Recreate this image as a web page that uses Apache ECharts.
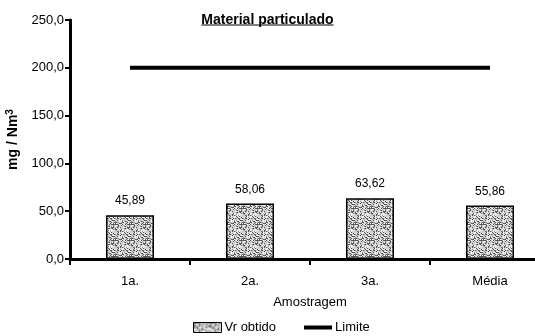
<!DOCTYPE html>
<html>
<head>
<meta charset="utf-8">
<script src="https://cdn.jsdelivr.net/npm/echarts@6/dist/echarts.min.js"></script>
<style>
  html, body { margin: 0; padding: 0; background: #fff; }
  #chart { width: 535px; height: 336px; }
</style>
</head>
<body>
<div id="chart"></div>
<script>
// Sampling campaign: particulate matter vs. emission limit
const categories = ['1a.', '2a.', '3a.', 'Média'];
const obtido = [45.89, 58.06, 63.62, 55.86];
const limite = [200, 200, 200, 200];
const yTicks = { min: 0, max: 250, interval: 50 };

const FONT = 'Liberation Sans, Arial, sans-serif';
const TITLE = 'Material particulado';
const TITLE_SIZE = 14;
const comma = (v, d) => v.toFixed(d).replace('.', ',');

// Grey stippled fill for the bars (deterministic speckle)
function stipple() {
  const n = 16;
  const c = document.createElement('canvas');
  c.width = n; c.height = n;
  const g = c.getContext('2d');
  g.fillStyle = '#d2d2d2';
  g.fillRect(0, 0, n, n);
  for (let y = 0; y < n; y++) {
    for (let x = 0; x < n; x++) {
      const h = (x * 374761393 + y * 668265263) >>> 0;
      const k = ((h ^ (h >>> 13)) * 1274126177 >>> 0) % 100;
      if (k < 22) { g.fillStyle = '#555'; g.fillRect(x, y, 1, 1); }
      else if (k < 40) { g.fillStyle = '#999'; g.fillRect(x, y, 1, 1); }
      else if (k < 55) { g.fillStyle = '#fff'; g.fillRect(x, y, 1, 1); }
    }
  }
  return c;
}
const barFill = { image: stipple(), repeat: 'repeat' };

// underline width from the title's rendered size
const meas = document.createElement('canvas').getContext('2d');
meas.font = 'bold ' + TITLE_SIZE + 'px ' + FONT;
const titleW = meas.measureText(TITLE).width;
const cx = 535 / 2;

const chart = echarts.init(document.getElementById('chart'), null, { renderer: 'canvas' });
chart.setOption({
  animation: false,
  backgroundColor: '#fff',
  title: {
    text: TITLE,
    left: 'center',
    top: 8,
    textStyle: { fontFamily: FONT, fontSize: TITLE_SIZE, fontWeight: 'bold', color: '#000' }
  },
  graphic: [{
    type: 'line',
    shape: { x1: cx - titleW / 2, y1: 25, x2: cx + titleW / 2, y2: 25 },
    style: { stroke: '#000', lineWidth: 1 }
  }],
  legend: {
    left: 188,
    top: 316,
    itemGap: 28,
    itemWidth: 28,
    itemHeight: 10,
    textStyle: { fontFamily: FONT, fontSize: 13, color: '#000', padding: [0, 0, 0, -2] },
    data: [
      { name: 'Vr obtido', icon: 'rect', itemStyle: { color: barFill, borderColor: '#000', borderWidth: 1 } },
      { name: 'Limite', icon: 'path://M0,3H28V7H0Z M0,0H0.01V10H0Z', itemStyle: { color: '#000' } }
    ]
  },
  grid: { left: 70, top: 20, width: 480, height: 239, outerBoundsMode: 'none' },
  xAxis: {
    type: 'category',
    data: categories,
    name: 'Amostragem',
    nameLocation: 'middle',
    nameGap: 37,
    nameTextStyle: { fontFamily: FONT, fontSize: 13, color: '#000' },
    axisLine: { lineStyle: { color: '#000', width: 3 } },
    axisTick: { show: true, length: 6, lineStyle: { color: '#000', width: 2 } },
    axisLabel: { fontFamily: FONT, fontSize: 13, color: '#000', margin: 16 }
  },
  yAxis: {
    type: 'value',
    min: yTicks.min,
    max: yTicks.max,
    interval: yTicks.interval,
    name: 'mg / Nm{sup|3}',
    nameLocation: 'middle',
    nameRotate: 90,
    nameGap: 46,
    nameTextStyle: {
      fontFamily: FONT, fontSize: 14, fontWeight: 'bold', color: '#000',
      rich: { sup: { fontFamily: FONT, fontSize: 10, fontWeight: 'bold', color: '#000', verticalAlign: 'top', padding: [0, 0, 6, 0] } }
    },
    splitLine: { show: false },
    axisLine: { show: true, lineStyle: { color: '#000', width: 3 } },
    axisTick: { show: true, length: 5, lineStyle: { color: '#000', width: 2 } },
    axisLabel: { fontFamily: FONT, fontSize: 13, color: '#000', margin: 6, formatter: v => comma(v, 1) }
  },
  series: [
    {
      name: 'Vr obtido',
      type: 'bar',
      data: obtido,
      barWidth: 48,
      itemStyle: { color: barFill, borderColor: '#000', borderWidth: 1.5 },
      label: {
        show: true, position: 'top', distance: 8,
        fontFamily: FONT, fontSize: 12, color: '#000',
        formatter: p => comma(p.value, 2)
      },
      z: 2
    },
    {
      name: 'Limite',
      type: 'line',
      data: limite,
      symbol: 'none',
      lineStyle: { color: '#000', width: 4 },
      z: 3
    }
  ]
});
</script>
</body>
</html>
